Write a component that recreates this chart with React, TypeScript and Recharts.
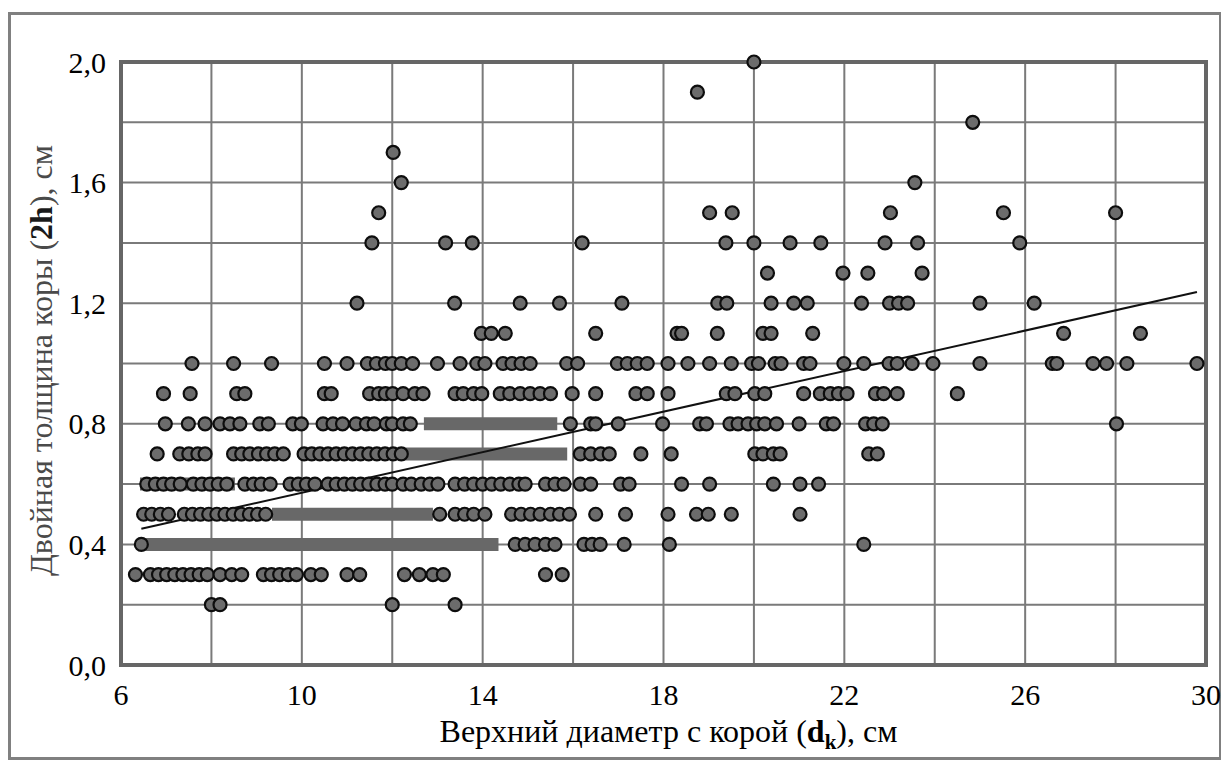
import React from 'react';
import { ComposedChart, Scatter, Line, XAxis, YAxis, CartesianGrid, ReferenceArea } from 'recharts';

// axis ticks: grid every 2 cm / 0.2 cm, labels every 4 cm / 0.4 cm
const xTicks = [6, 8, 10, 12, 14, 16, 18, 20, 22, 24, 26, 28, 30];
const xLabelTicks = [6, 10, 14, 18, 22, 26, 30];
const yTicks = [0, 0.2, 0.4, 0.6, 0.8, 1.0, 1.2, 1.4, 1.6, 1.8, 2.0];
const yLabelTicks = [0, 0.4, 0.8, 1.2, 1.6, 2.0];

// measured diameters (x) for each bark thickness level (y)
const row02 = [8.0, 8.19, 12.0, 13.39];
const row03 = [6.32, 6.65, 6.83, 7.01, 7.19, 7.37, 7.55, 7.73, 7.91, 8.19, 8.45, 8.67, 9.15, 9.33, 9.51, 9.7, 9.88, 10.2, 10.43, 11.0, 11.28, 12.27, 12.6, 12.9, 13.13, 15.39, 15.76];
const row04 = [6.45, 14.72, 14.94, 15.16, 15.39, 15.6, 16.24, 16.42, 16.6, 17.13, 18.13, 22.43];
const row05 = [6.5, 6.68, 6.87, 7.05, 7.4, 7.58, 7.76, 7.94, 8.12, 8.3, 8.48, 8.66, 8.84, 9.02, 9.2, 13.05, 13.39, 13.6, 13.8, 14.05, 14.64, 14.85, 15.06, 15.27, 15.5, 15.7, 15.92, 16.5, 17.16, 18.1, 18.73, 18.99, 19.5, 21.02];
const row06 = [6.57, 6.76, 6.94, 7.12, 7.31, 7.6, 7.79, 7.97, 8.15, 8.34, 8.74, 8.93, 9.1, 9.3, 9.74, 9.92, 10.1, 10.29, 10.58, 10.76, 10.94, 11.12, 11.3, 11.48, 11.66, 11.84, 12.0, 12.24, 12.42, 12.64, 12.83, 13.01, 13.39, 13.6, 13.8, 14.0, 14.2, 14.4, 14.6, 14.8, 14.94, 15.39, 15.6, 15.8, 16.16, 16.39, 17.05, 17.24, 18.4, 19.02, 20.43, 21.02, 21.43];
const row07 = [6.8, 7.3, 7.5, 7.7, 7.86, 8.49, 8.67, 8.85, 9.04, 9.22, 9.4, 9.59, 10.05, 10.22, 10.4, 10.58, 10.76, 10.94, 11.12, 11.3, 11.48, 11.66, 11.84, 12.02, 12.2, 16.16, 16.39, 16.61, 16.8, 17.5, 18.17, 20.02, 20.2, 20.43, 20.58, 22.54, 22.73];
const row08 = [6.98, 7.49, 7.86, 8.19, 8.41, 8.63, 9.07, 9.26, 9.8, 9.99, 10.47, 10.69, 10.9, 11.2, 11.43, 11.6, 11.87, 12.0, 12.24, 12.4, 15.94, 16.39, 16.5, 17.0, 17.98, 18.8, 18.95, 19.47, 19.65, 19.87, 20.06, 20.24, 20.5, 21.0, 21.6, 21.76, 22.47, 22.65, 22.84, 28.02];
const row09 = [6.94, 7.53, 8.56, 8.74, 10.5, 10.65, 11.5, 11.7, 11.85, 12.01, 12.24, 12.5, 12.68, 13.39, 13.57, 13.8, 13.98, 14.39, 14.6, 14.83, 15.05, 15.27, 15.5, 15.98, 16.5, 17.39, 17.64, 18.1, 19.39, 19.58, 20.02, 20.24, 21.1, 21.47, 21.69, 21.87, 22.06, 22.69, 22.87, 23.17, 24.5];
const row10 = [7.57, 8.49, 9.33, 10.5, 11.0, 11.45, 11.65, 11.85, 12.0, 12.2, 12.45, 13.0, 13.5, 13.87, 14.05, 14.45, 14.65, 14.85, 15.05, 15.86, 16.1, 16.98, 17.2, 17.42, 17.64, 18.1, 18.54, 19.02, 19.5, 19.95, 20.1, 20.47, 20.6, 21.1, 21.24, 21.99, 22.43, 22.99, 23.17, 23.5, 23.96, 25.0, 26.6, 26.7, 27.5, 27.8, 28.25, 29.8];
const row11 = [13.97, 14.19, 14.5, 16.5, 18.3, 18.4, 19.19, 20.2, 20.38, 21.3, 26.85, 28.55];
const row12 = [11.22, 13.38, 14.83, 15.7, 17.08, 19.2, 19.4, 20.38, 20.88, 21.18, 22.38, 23.0, 23.2, 23.4, 25.0, 26.2];
const row13 = [20.3, 21.97, 22.52, 23.72];
const row14 = [11.55, 13.18, 13.77, 16.2, 19.38, 20.0, 20.8, 21.48, 22.9, 23.62, 25.88];
const row15 = [11.7, 19.02, 19.52, 23.02, 25.52, 28.0];
const row16 = [12.2, 23.56];
const row17 = [12.02];
const row18 = [24.84];
const row19 = [18.75];
const row20 = [20.0];

const levels = [0.2, 0.3, 0.4, 0.5, 0.6, 0.7, 0.8, 0.9, 1.0, 1.1, 1.2, 1.3, 1.4, 1.5, 1.6, 1.7, 1.8, 1.9, 2.0];
const rows = [row02, row03, row04, row05, row06, row07, row08, row09, row10, row11, row12, row13, row14, row15, row16, row17, row18, row19, row20];

// dense runs of overlapping points, drawn as solid strips
const bandLevel = [0.8, 0.7, 0.6, 0.5, 0.4];
const bandFrom = [12.7, 12.25, 6.42, 9.34, 6.43];
const bandTo = [15.65, 15.87, 8.52, 12.9, 14.35];

// linear trend
const trendX = [6.45, 29.8];
const trendY = [0.452, 1.237];

const points = levels.flatMap((y, i) => rows[i].map((x) => ({ x, y })));
const bands = bandLevel.map((y, i) => [
  { x: bandFrom[i], y },
  { x: bandTo[i], y },
]);
const trend = trendX.map((x, i) => ({ x, y: trendY[i] }));

const FONT = "'Liberation Serif', 'Times New Roman', serif";

const Dot = (props: any) => {
  const { cx, cy } = props;
  if (cx == null || cy == null) return null;
  return <circle cx={cx} cy={cy} r={6.5} fill="#6c6c6c" stroke="#0d0d0d" strokeWidth={2.2} />;
};

const XTitle = (props: any) => {
  const vb = props.viewBox;
  return (
    <text x={vb.x + vb.width / 2 + 5} y={vb.y + 77} textAnchor="middle" style={{ fontFamily: FONT, fontSize: 32 }} fill="#000">
      Верхний диаметр с корой (<tspan fontWeight="bold">d</tspan>
      <tspan fontWeight="bold" style={{ fontSize: 21 }} dy={7}>k</tspan>
      <tspan dy={-7}>), см</tspan>
    </text>
  );
};

const YTitle = (props: any) => {
  const vb = props.viewBox;
  const cx = vb.x + 20;
  const cy = vb.y + vb.height / 2 - 3;
  return (
    <text x={cx} y={cy} transform={`rotate(-90 ${cx} ${cy})`} textAnchor="middle" dominantBaseline="central" style={{ fontFamily: FONT, fontSize: 32 }} fill="#4a4a4a">
      Двойная толщина коры (<tspan fontWeight="bold" fill="#1a1a1a">2h</tspan>), см
    </text>
  );
};

const tickStyle = { fontFamily: FONT, fontSize: 30, fill: '#000' };

export default function App() {
  return (
    <div style={{ position: 'relative', width: 1214, height: 748, marginTop: 4, fontFamily: FONT }}>
      <div style={{ position: 'absolute', left: 0, top: 0, width: 1214, height: 748, border: '3px solid #808080', boxSizing: 'border-box' }} />
      <div style={{ position: 'absolute', left: 0, top: 0 }}>
        <ComposedChart width={1214} height={748} margin={{ top: 50, right: 16, left: 13, bottom: 0 }} style={{ fontFamily: FONT }}>
          <CartesianGrid stroke="#7a7a7a" strokeWidth={2} />
          <XAxis
            type="number"
            dataKey="x"
            domain={[6, 30]}
            ticks={xTicks}
            interval={0}
            height={95}
            axisLine={false}
            tickLine={false}
            tickSize={0}
            tickMargin={19}
            tick={{ ...tickStyle, style: { fontFamily: FONT } }}
            tickFormatter={(v: number) => (xLabelTicks.includes(v) ? String(v) : '')}
            label={{ content: XTitle }}
          />
          <YAxis
            type="number"
            dataKey="y"
            domain={[0, 2]}
            ticks={yTicks}
            interval={0}
            width={100}
            axisLine={false}
            tickLine={false}
            tickSize={0}
            tickMargin={15}
            tick={{ ...tickStyle, style: { fontFamily: FONT } }}
            tickFormatter={(v: number) =>
              yLabelTicks.some((t) => Math.abs(t - v) < 1e-6) ? v.toFixed(1).replace('.', ',') : ''
            }
            label={{ content: YTitle }}
          />
          <ReferenceArea x1={6} x2={30} y1={0} y2={2} fill="none" stroke="#666" strokeWidth={4} fillOpacity={0} ifOverflow="visible" />
          <Scatter data={points} dataKey="y" shape={Dot} isAnimationActive={false} />
          {bands.map((b, i) => (
            <Line
              key={i}
              data={b}
              dataKey="y"
              type="linear"
              stroke="#686868"
              strokeWidth={13}
              strokeLinecap="butt"
              dot={false}
              activeDot={false}
              isAnimationActive={false}
            />
          ))}
          <Line data={trend} dataKey="y" type="linear" stroke="#111" strokeWidth={2} dot={false} activeDot={false} isAnimationActive={false} />
        </ComposedChart>
      </div>
    </div>
  );
}
